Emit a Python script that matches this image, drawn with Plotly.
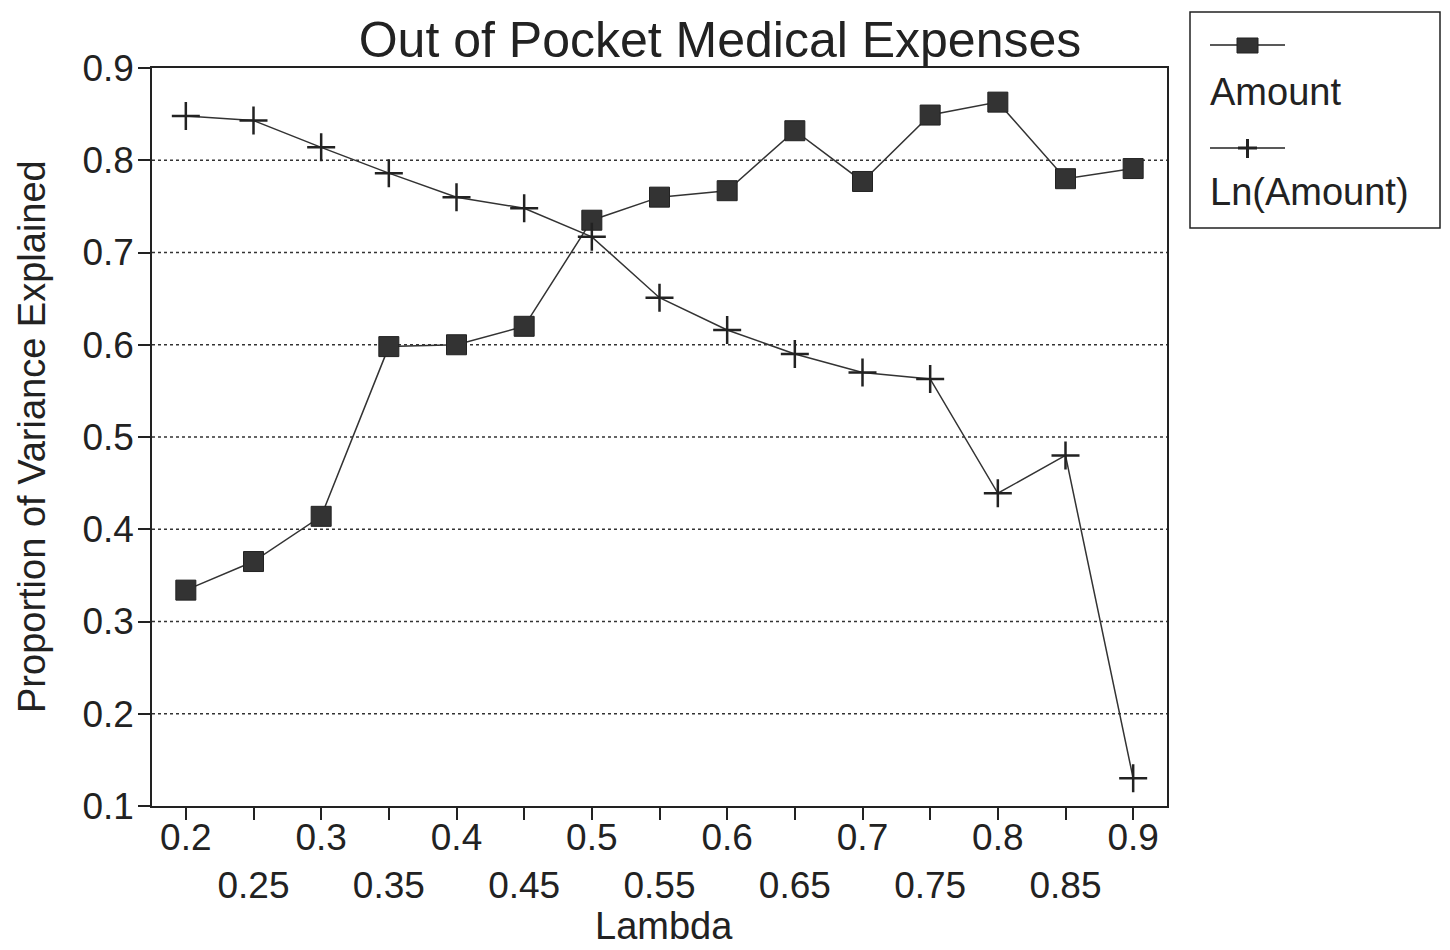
import plotly.graph_objects as go

lambdas = [0.2, 0.25, 0.3, 0.35, 0.4, 0.45, 0.5, 0.55, 0.6, 0.65, 0.7, 0.75, 0.8, 0.85, 0.9]
amount = [0.334, 0.365, 0.414, 0.598, 0.600, 0.620, 0.735, 0.760, 0.767, 0.832, 0.777, 0.849, 0.863, 0.780, 0.791]
ln_amount = [0.848, 0.843, 0.814, 0.786, 0.760, 0.748, 0.717, 0.651, 0.616, 0.590, 0.570, 0.563, 0.439, 0.480, 0.130]
tick_vals = lambdas
tick_text = [("%g" % v) if i % 2 == 0 else "<br>%g" % v for i, v in enumerate(lambdas)]
y_ticks = [0.1, 0.2, 0.3, 0.4, 0.5, 0.6, 0.7, 0.8, 0.9]

FONT = "Liberation Sans, Arial, sans-serif"
INK = "#222222"
FS = 37

W, H = 1450, 950
OFF = 8  # page body margin
ML, MR, MT, MB = 144, 291, 60, 152
PW, PH = W - ML - MR, H - MT - MB

def px(x):
    return (x - OFF - ML) / PW

def py(y):
    return (H - MB - (y - OFF)) / PH

fig = go.Figure()
fig.add_trace(go.Scatter(x=lambdas, y=amount, mode="lines+markers", name="Amount",
                         line=dict(color="#333333", width=1.5),
                         marker=dict(symbol="square", size=20, color="#333333",
                                     line=dict(color="#222222", width=1))))
fig.add_trace(go.Scatter(x=lambdas, y=ln_amount, mode="lines+markers", name="Ln(Amount)",
                         line=dict(color="#333333", width=1.5),
                         marker=dict(symbol="cross-thin", size=20, color="#222222",
                                     line=dict(color="#222222", width=2.5))))

# horizontal dotted grid lines
for yv in y_ticks[1:-1]:
    fig.add_shape(type="line", xref="x domain", yref="y", x0=0, x1=1, y0=yv, y1=yv,
                  line=dict(color="#333333", width=1.5, dash="dot"), layer="below")

# manual legend (marker above label)
lx0, lx1, ly0, ly1 = 1190, 1440, 12, 228
fig.add_shape(type="rect", xref="paper", yref="paper", x0=px(lx0), x1=px(lx1), y0=py(ly1), y1=py(ly0),
              line=dict(color=INK, width=1.5), fillcolor="white")
for yy in (45, 148):
    fig.add_shape(type="line", xref="paper", yref="paper", x0=px(1210), x1=px(1285), y0=py(yy), y1=py(yy),
                  line=dict(color=INK, width=1.5))
fig.add_shape(type="rect", xref="paper", yref="paper", x0=px(1237), x1=px(1258), y0=py(53), y1=py(38),
              fillcolor="#333333", line=dict(color=INK, width=1))
fig.add_shape(type="line", xref="paper", yref="paper", x0=px(1238), x1=px(1257), y0=py(148), y1=py(148),
              line=dict(color=INK, width=3))
fig.add_shape(type="line", xref="paper", yref="paper", x0=px(1247.5), x1=px(1247.5), y0=py(139), y1=py(158),
              line=dict(color=INK, width=3))
fig.add_annotation(xref="paper", yref="paper", x=px(1208), y=py(92), text="Amount", showarrow=False,
                   xanchor="left", yanchor="middle", font=dict(family=FONT, size=38, color=INK))
fig.add_annotation(xref="paper", yref="paper", x=px(1208), y=py(192), text="Ln(Amount)", showarrow=False,
                   xanchor="left", yanchor="middle", font=dict(family=FONT, size=38, color=INK))

# axis titles
fig.add_annotation(xref="paper", yref="paper", x=px(664), y=py(926), text="Lambda", showarrow=False,
                   xanchor="center", yanchor="middle", font=dict(family=FONT, size=38, color=INK))
fig.add_annotation(xref="paper", yref="paper", x=px(32), y=py(437), text="Proportion of Variance Explained",
                   showarrow=False, textangle=-90, xanchor="center", yanchor="middle",
                   font=dict(family=FONT, size=38, color=INK))

fig.update_layout(
    width=W, height=H,
    paper_bgcolor="white", plot_bgcolor="white",
    showlegend=False,
    margin=dict(l=ML, r=MR, t=MT, b=MB, autoexpand=False),
    title=dict(text="Out of Pocket Medical Expenses", x=(720 - OFF) / W, xanchor="center",
               y=1 - 31 / H, yanchor="middle",
               font=dict(family=FONT, size=50, color=INK)),
    font=dict(family=FONT, size=FS, color=INK),
)
fig.update_xaxes(range=[0.175, 0.925], tickvals=tick_vals, ticktext=tick_text, automargin=False,
                 ticks="outside", ticklen=12, tickwidth=1.5, tickcolor=INK, ticklabelstandoff=-14,
                 showline=True, linecolor=INK, linewidth=1.5, mirror=True, showgrid=False, zeroline=False,
                 tickfont=dict(family=FONT, size=FS, color=INK))
fig.update_yaxes(range=[0.1, 0.9], tickvals=y_ticks, ticktext=["%g" % v for v in y_ticks], automargin=False,
                 ticks="outside", ticklen=12, tickwidth=1.5, tickcolor=INK, ticklabelstandoff=-3,
                 showline=True, linecolor=INK, linewidth=1.5, mirror=True, showgrid=False, zeroline=False,
                 tickfont=dict(family=FONT, size=FS, color=INK))

fig.write_html("out.html")
